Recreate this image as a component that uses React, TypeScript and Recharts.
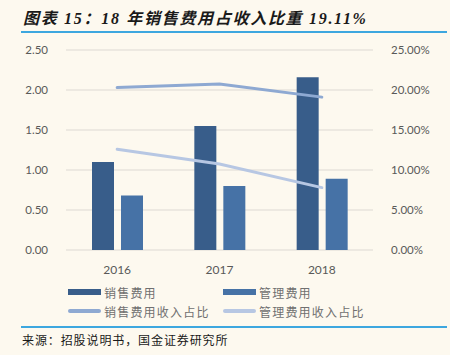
import React from 'react';
import { ComposedChart, Bar, Line, XAxis, YAxis, CartesianGrid } from 'recharts';

const years = ['2016', '2017', '2018'];
const salesExpense = [1.1, 1.55, 2.16];
const adminExpense = [0.68, 0.8, 0.89];
const salesRatio = [20.3, 20.75, 19.11];
const adminRatio = [12.6, 10.75, 7.8];
const leftTicks = [0, 0.5, 1, 1.5, 2, 2.5];
const rightTicks = [0, 5, 10, 15, 20, 25];

const seriesNames = ['销售费用', '管理费用', '销售费用收入占比', '管理费用收入占比'];
const colors = ['#385D8A', '#4672A6', '#8EA9D2', '#B7C7E3'];

const data = years.map((y, i) => ({
  year: y,
  sales: salesExpense[i],
  admin: adminExpense[i],
  salesRatio: salesRatio[i],
  adminRatio: adminRatio[i],
}));

const tickStyle = { fontSize: 11.5, fill: '#595959', fontFamily: 'Lato, "Noto Sans", sans-serif' };

export default function App() {
  const legendItem = (i: number, left: number, top: number, isLine: boolean) => (
    <div key={i} style={{ position: 'absolute', left, top, height: 16, display: 'flex', alignItems: 'center' }}>
      <div
        style={{
          width: 33,
          height: isLine ? 4 : 6,
          borderRadius: isLine ? 2 : 0,
          background: colors[i],
          marginRight: 3,
        }}
      />
      <span style={{ fontSize: 12, color: '#707070', letterSpacing: 1.2, fontFamily: '"Noto Sans CJK SC", sans-serif', whiteSpace: 'nowrap' }}>
        {seriesNames[i]}
      </span>
    </div>
  );

  return (
    <div style={{ position: 'fixed', left: 0, top: 0, width: 450, height: 355, background: '#FDF9EF', overflow: 'hidden' }}>
      <div
        style={{
          position: 'absolute',
          left: 23,
          top: 5,
          fontSize: 16,
          fontWeight: 'bold',
          fontStyle: 'italic',
          fontFamily: '"Liberation Serif", "Noto Sans CJK SC", serif',
          color: '#1a1a1a',
          whiteSpace: 'nowrap',
          letterSpacing: 1.7,
        }}
      >
        图表 15：18 年销售费用占收入比重 19.11%
      </div>
      <div style={{ position: 'absolute', left: 21, top: 31, width: 426, height: 2, background: '#3DA7DF' }} />
      <div style={{ position: 'absolute', left: 0, top: 0 }}>
        <ComposedChart width={450} height={355} data={data} margin={{ top: 50, right: 0, bottom: 75, left: 0 }} barGap={7}>
          <CartesianGrid vertical={false} stroke="#DDDAD3" strokeWidth={1.2} yAxisId="left" />
          <XAxis dataKey="year" axisLine={false} tickLine={false} tick={{ ...tickStyle, fontSize: 12 }} height={30} tickMargin={9} />
          <YAxis
            yAxisId="left"
            domain={[0, 2.5]}
            ticks={leftTicks}
            tickFormatter={(v: number) => v.toFixed(2)}
            axisLine={false}
            tickLine={false}
            tick={tickStyle}
            width={66}
            tickMargin={12}
          />
          <YAxis
            yAxisId="right"
            orientation="right"
            domain={[0, 25]}
            ticks={rightTicks}
            tickFormatter={(v: number) => v.toFixed(2) + '%'}
            axisLine={false}
            tickLine={false}
            tick={{ ...tickStyle, textAnchor: 'start' }}
            width={77}
            tickMargin={12}
          />
          <Bar yAxisId="left" dataKey="sales" fill={colors[0]} barSize={22} isAnimationActive={false} />
          <Bar yAxisId="left" dataKey="admin" fill={colors[1]} barSize={22} isAnimationActive={false} />
          <Line yAxisId="right" dataKey="salesRatio" stroke={colors[2]} strokeWidth={3} dot={false} strokeLinecap="round" isAnimationActive={false} />
          <Line yAxisId="right" dataKey="adminRatio" stroke={colors[3]} strokeWidth={3} dot={false} strokeLinecap="round" isAnimationActive={false} />
        </ComposedChart>
      </div>
      {legendItem(0, 68, 284, false)}
      {legendItem(1, 223, 284, false)}
      {legendItem(2, 68, 303, true)}
      {legendItem(3, 223, 303, true)}
      <div style={{ position: 'absolute', left: 21, top: 326, width: 426, height: 2, background: '#3DA7DF' }} />
      <div
        style={{
          position: 'absolute',
          left: 22,
          top: 331,
          fontSize: 12,
          color: '#1a1a1a',
          fontFamily: '"Noto Sans CJK SC", sans-serif',
          whiteSpace: 'nowrap',
          letterSpacing: 0.9,
        }}
      >
        来源：招股说明书，国金证券研究所
      </div>
    </div>
  );
}
